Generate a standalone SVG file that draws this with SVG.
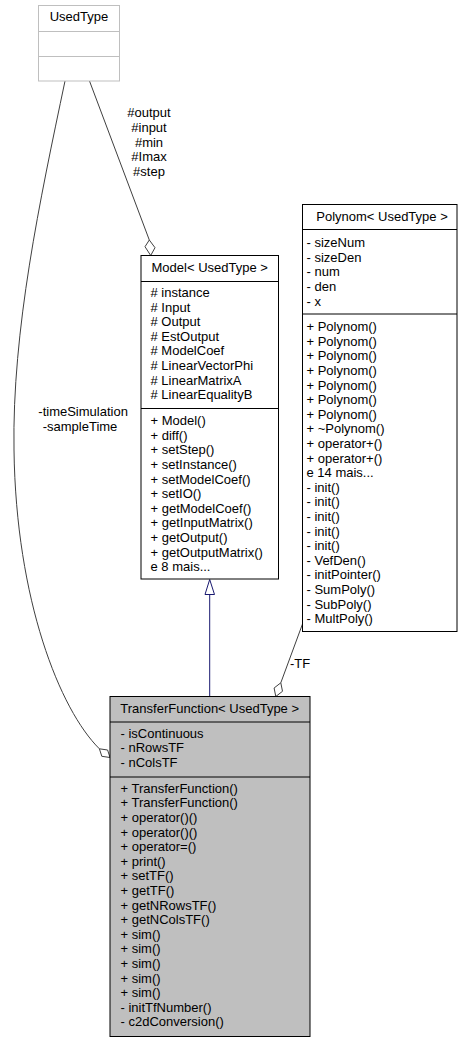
<svg xmlns="http://www.w3.org/2000/svg" width="463" height="1043" viewBox="0 0 463 1043">
<defs>
<style>
text{font-family:"Liberation Sans",Arial,sans-serif;font-size:13px;fill:#000}
.box{fill:#fff;stroke:#000;stroke-width:1}
.grey{fill:#fff;stroke:#bfbfbf;stroke-width:1}
.cur{fill:#bfbfbf;stroke:#000;stroke-width:1}
.sep{stroke:#000;stroke-width:1}
.gsep{stroke:#bfbfbf;stroke-width:1}
.edge{fill:none;stroke:#404040;stroke-width:1}
.dia{fill:#fff;stroke:#404040;stroke-width:1}
.inh{fill:none;stroke:#191970;stroke-width:1}
.tri{fill:#fff;stroke:#191970;stroke-width:1}
.c{text-anchor:middle}
</style>
</defs>
<rect width="463" height="1043" fill="#fff"/>
<g id="connectors">
<path class="edge" d="M89.5,81 L149.3,240"/>
<polygon class="dia" points="149.3,240 155,247.7 150.7,255.5 145,246.7"/>
<text class="c" x="149" y="117.2">#output</text>
<text class="c" x="149" y="131.9">#input</text>
<text class="c" x="149" y="146.6">#min</text>
<text class="c" x="149" y="161.3">#Imax</text>
<text class="c" x="149" y="176">#step</text>
<path class="edge" d="M302.5,624 L280.8,682.8"/>
<polygon class="dia" points="275.8,696.5 282.5,691.3 280.8,682.8 274.1,688"/>
<text x="290" y="668">-TF</text>
<path class="edge" d="M65,81 C40,200 12,330 14,450 C16,600 60,710 99.4,748.8"/>
<polygon class="dia" points="110,757.5 107.6,750 99.4,748.8 101.8,756.3"/>
<text x="38.3" y="416">-timeSimulation</text>
<text x="42.7" y="430.5">-sampleTime</text>
<path class="inh" d="M209.7,696.5 L209.7,594.5"/>
<polygon class="tri" points="209.7,579.5 214.5,594.5 205,594.5"/>
</g>
<g id="UsedType">
<rect class="grey" x="38.5" y="5.5" width="81" height="75.5"/>
<line class="gsep" x1="38.5" y1="31.5" x2="119.5" y2="31.5"/>
<line class="gsep" x1="38.5" y1="56.5" x2="119.5" y2="56.5"/>
<text class="c" x="79" y="21.2">UsedType</text>
</g>
<g id="Model">
<rect class="box" x="141" y="255.5" width="137.5" height="323.5"/>
<line class="sep" x1="141" y1="281.5" x2="278.5" y2="281.5"/>
<line class="sep" x1="141" y1="408.5" x2="278.5" y2="408.5"/>
<text class="c" x="209.7" y="271.5">Model&lt; UsedType &gt;</text>
<text x="150.5" y="297">
<tspan x="150.5" y="297"># instance</tspan>
<tspan x="150.5" y="311.6"># Input</tspan>
<tspan x="150.5" y="326.2"># Output</tspan>
<tspan x="150.5" y="340.8"># EstOutput</tspan>
<tspan x="150.5" y="355.4"># ModelCoef</tspan>
<tspan x="150.5" y="370"># LinearVectorPhi</tspan>
<tspan x="150.5" y="384.6"># LinearMatrixA</tspan>
<tspan x="150.5" y="399.2"># LinearEqualityB</tspan>
</text>
<text x="150.5" y="425.2">
<tspan x="150.5" y="425.2">+ Model()</tspan>
<tspan x="150.5" y="439.8">+ diff()</tspan>
<tspan x="150.5" y="454.4">+ setStep()</tspan>
<tspan x="150.5" y="469">+ setInstance()</tspan>
<tspan x="150.5" y="483.6">+ setModelCoef()</tspan>
<tspan x="150.5" y="498.2">+ setIO()</tspan>
<tspan x="150.5" y="512.8">+ getModelCoef()</tspan>
<tspan x="150.5" y="527.4">+ getInputMatrix()</tspan>
<tspan x="150.5" y="542">+ getOutput()</tspan>
<tspan x="150.5" y="556.6">+ getOutputMatrix()</tspan>
<tspan x="150.5" y="571.2">e 8 mais...</tspan>
</text>
</g>
<g id="Polynom">
<rect class="box" x="302.5" y="204.5" width="154.5" height="427"/>
<line class="sep" x1="302.5" y1="229.5" x2="457" y2="229.5"/>
<line class="sep" x1="302.5" y1="314" x2="457" y2="314"/>
<text class="c" x="382" y="221">Polynom&lt; UsedType &gt;</text>
<text x="306.5" y="247.2">
<tspan x="306.5" y="247.2">- sizeNum</tspan>
<tspan x="306.5" y="261.8">- sizeDen</tspan>
<tspan x="306.5" y="276.4">- num</tspan>
<tspan x="306.5" y="291">- den</tspan>
<tspan x="306.5" y="305.6">- x</tspan>
</text>
<text x="306.5" y="331.2">
<tspan x="306.5" y="331.2">+ Polynom()</tspan>
<tspan x="306.5" y="345.8">+ Polynom()</tspan>
<tspan x="306.5" y="360.4">+ Polynom()</tspan>
<tspan x="306.5" y="375">+ Polynom()</tspan>
<tspan x="306.5" y="389.6">+ Polynom()</tspan>
<tspan x="306.5" y="404.2">+ Polynom()</tspan>
<tspan x="306.5" y="418.8">+ Polynom()</tspan>
<tspan x="306.5" y="433.4">+ ~Polynom()</tspan>
<tspan x="306.5" y="448">+ operator+()</tspan>
<tspan x="306.5" y="462.6">+ operator+()</tspan>
<tspan x="306.5" y="477.2">e 14 mais...</tspan>
<tspan x="306.5" y="491.8">- init()</tspan>
<tspan x="306.5" y="506.4">- init()</tspan>
<tspan x="306.5" y="521">- init()</tspan>
<tspan x="306.5" y="535.6">- init()</tspan>
<tspan x="306.5" y="550.2">- init()</tspan>
<tspan x="306.5" y="564.8">- VefDen()</tspan>
<tspan x="306.5" y="579.4">- initPointer()</tspan>
<tspan x="306.5" y="594">- SumPoly()</tspan>
<tspan x="306.5" y="608.6">- SubPoly()</tspan>
<tspan x="306.5" y="623.2">- MultPoly()</tspan>
</text>
</g>
<g id="TransferFunction">
<rect class="cur" x="110" y="696.5" width="200" height="340"/>
<line class="sep" x1="110" y1="722" x2="310" y2="722"/>
<line class="sep" x1="110" y1="777" x2="310" y2="777"/>
<text class="c" x="209.7" y="713">TransferFunction&lt; UsedType &gt;</text>
<text x="120.5" y="737.8">
<tspan x="120.5" y="737.8">- isContinuous</tspan>
<tspan x="120.5" y="752.4">- nRowsTF</tspan>
<tspan x="120.5" y="767">- nColsTF</tspan>
</text>
<text x="120.5" y="792.8">
<tspan x="120.5" y="792.8">+ TransferFunction()</tspan>
<tspan x="120.5" y="807.4">+ TransferFunction()</tspan>
<tspan x="120.5" y="822">+ operator()()</tspan>
<tspan x="120.5" y="836.6">+ operator()()</tspan>
<tspan x="120.5" y="851.2">+ operator=()</tspan>
<tspan x="120.5" y="865.8">+ print()</tspan>
<tspan x="120.5" y="880.4">+ setTF()</tspan>
<tspan x="120.5" y="895">+ getTF()</tspan>
<tspan x="120.5" y="909.6">+ getNRowsTF()</tspan>
<tspan x="120.5" y="924.2">+ getNColsTF()</tspan>
<tspan x="120.5" y="938.8">+ sim()</tspan>
<tspan x="120.5" y="953.4">+ sim()</tspan>
<tspan x="120.5" y="968">+ sim()</tspan>
<tspan x="120.5" y="982.6">+ sim()</tspan>
<tspan x="120.5" y="997.2">+ sim()</tspan>
<tspan x="120.5" y="1011.8">- initTfNumber()</tspan>
<tspan x="120.5" y="1026.4">- c2dConversion()</tspan>
</text>
</g>
</svg>
